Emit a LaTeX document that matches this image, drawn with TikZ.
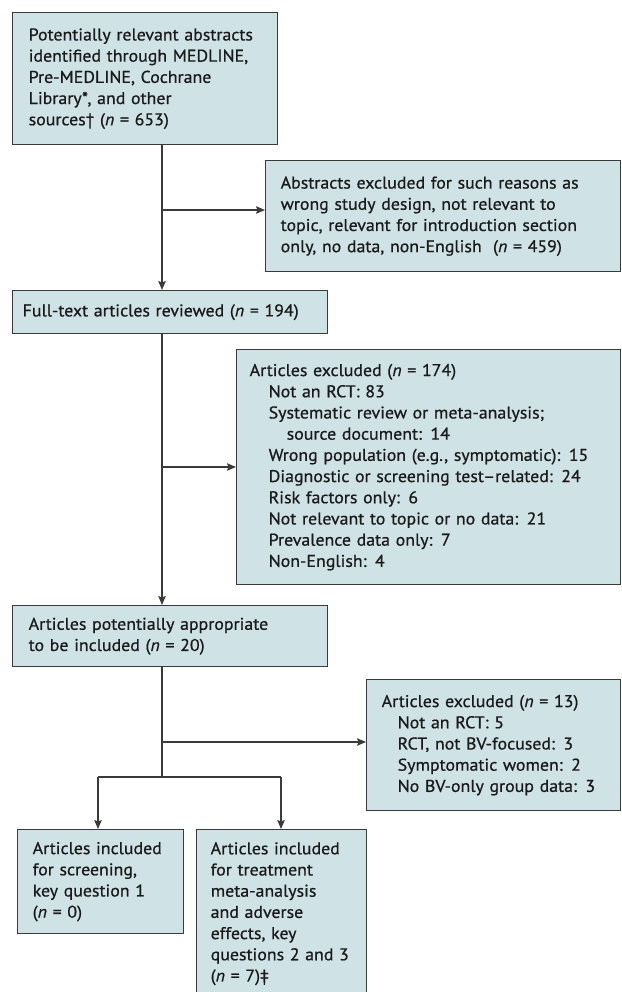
\documentclass[tikz,border=0pt]{standalone}
\usepackage{fontspec}
\setmainfont{PT Sans}[FakeStretch=1.05, FakeBold=0.7]
\usetikzlibrary{arrows.meta}
\definecolor{boxfill}{HTML}{CFE2E5}
\definecolor{edge}{HTML}{3A3A3A}
\definecolor{ink}{HTML}{1A1A1A}
\newcommand{\oneline}[1]{\mbox{#1}}
\begin{document}
\begin{tikzpicture}[x=1pt,y=-1pt,
  box/.style={draw=edge, line width=1.4pt, fill=boxfill, anchor=north west, align=left,
    inner ysep=0pt, font=\fontsize{17}{21.2}\selectfont, text=ink},
  conn/.style={draw=edge, line width=1.2pt},
  arr/.style={conn, -{Stealth[length=9pt,width=7.5pt,inset=1.5pt]}}]
\useasboundingbox (0,0) rectangle (621,992);
\fill[white] (0,0) rectangle (621,992);

\node[box, inner xsep=16pt, text width=233pt, minimum height=132pt] (b1) at (12,12)
  {\oneline{Potentially relevant abstracts}\\\oneline{identified through MEDLINE,}\\Pre-MEDLINE, Cochrane\\Library*, and other\\sources† (\textit{n} = 653)};
\node[box, inner xsep=15pt, text width=325pt, minimum height=111pt] (b2) at (265,160)
  {\oneline{Abstracts excluded for such reasons as}\\\oneline{wrong study design, not relevant to}\\\oneline{topic, relevant for introduction section}\\\oneline{only, no data, non-English\ \ (\textit{n} = 459)}};
\node[box, inner xsep=10pt, text width=295pt, minimum height=43pt] (b3) at (12,290)
  {Full-text articles reviewed (\textit{n} = 194)};
\node[box, inner xsep=13pt, text width=358pt, minimum height=235pt] (b4) at (236,349)
  {Articles excluded (\textit{n} = 174)\\
   \hspace*{19pt}\oneline{Not an RCT: 83}\\
   \hspace*{19pt}\oneline{Systematic review or meta-analysis;}\\
   \hspace*{37pt}\oneline{source document: 14}\\
   \hspace*{19pt}\oneline{Wrong population (e.g., symptomatic): 15}\\
   \hspace*{19pt}\oneline{Diagnostic or screening test–related: 24}\\
   \hspace*{19pt}\oneline{Risk factors only: 6}\\
   \hspace*{19pt}\oneline{Not relevant to topic or no data: 21}\\
   \hspace*{19pt}\oneline{Prevalence data only: 7}\\
   \hspace*{19pt}\oneline{Non-English: 4}};
\node[box, inner xsep=16pt, text width=283pt, minimum height=61pt] (b5) at (12,605)
  {\oneline{Articles potentially appropriate}\\to be included (\textit{n} = 20)};
\node[box, inner xsep=15pt, text width=224pt, minimum height=131pt] (b6) at (366,679)
  {\oneline{Articles excluded (\textit{n} = 13)}\\
   \hspace*{16pt}\oneline{Not an RCT: 5}\\
   \hspace*{16pt}\oneline{RCT, not BV-focused: 3}\\
   \hspace*{16pt}\oneline{Symptomatic women: 2}\\
   \hspace*{16pt}\oneline{No BV-only group data: 3}};
\node[box, inner xsep=15pt, text width=136pt, minimum height=104pt] (b7) at (17,829)
  {\oneline{Articles included}\\\oneline{for screening,}\\\oneline{key question 1}\\(\textit{n} = 0)};
\node[box, inner xsep=14pt, text width=142pt, minimum height=168pt] (b8) at (196,829)
  {\oneline{Articles included}\\\oneline{for treatment}\\\oneline{meta-analysis}\\\oneline{and adverse}\\\oneline{effects, key}\\\oneline{questions 2 and 3}\\(\textit{n} = 7)‡};

\coordinate (s1) at (162,210);
\coordinate (s2) at (162,467);
\coordinate (s3) at (162,742);
\coordinate (s4) at (162,777);
\coordinate (l4) at (98,777);
\coordinate (r4) at (281,777);

\draw[arr] (b1.south -| s1) -- (b3.north -| s1);
\draw[arr] (s1) -- (s1 -| b2.west);
\draw[arr] (b3.south -| s2) -- (b5.north -| s2);
\draw[arr] (s2) -- (s2 -| b4.west);
\draw[conn] (b5.south -| s3) -- (s4);
\draw[arr] (s3) -- (s3 -| b6.west);
\draw[conn] (l4) -- (r4);
\draw[arr] (l4) -- (b7.north -| l4);
\draw[arr] (r4) -- (b8.north -| r4);
\end{tikzpicture}
\end{document}
